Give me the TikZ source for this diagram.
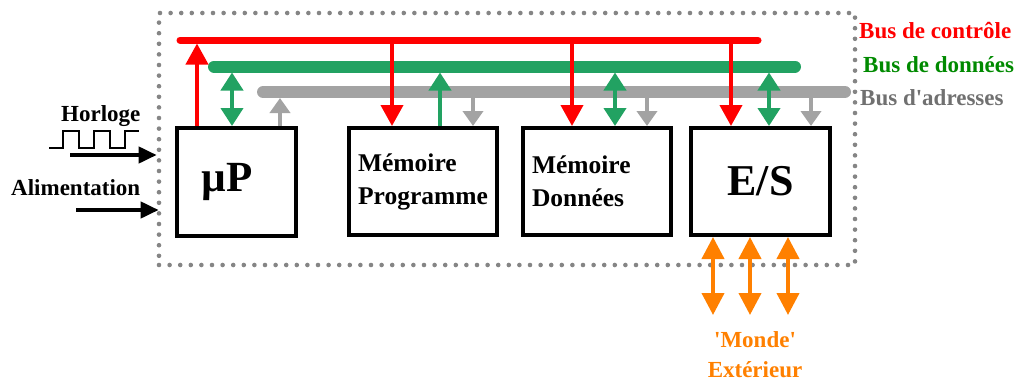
\documentclass[tikz,border=0pt]{standalone}
\usepackage{fontspec}
\setmainfont{Liberation Serif}
\newfontfamily\qfont{Liberation Serif}[Ligatures=TeXOff]
\newcommand\sq{{\qfont\bfseries'}}
\usetikzlibrary{arrows.meta,calc}
\definecolor{busred}{HTML}{FF0000}
\definecolor{busgreen}{HTML}{22A262}
\definecolor{txtgreen}{HTML}{008A00}
\definecolor{busgray}{HTML}{A3A3A3}
\definecolor{txtgray}{HTML}{707070}
\definecolor{dotgray}{HTML}{858585}
\definecolor{worldorange}{HTML}{FF8000}
\tikzset{
  blk/.style={draw=black,line width=4pt,fill=white,inner sep=0pt,align=left,font=\bfseries},
  rbus/.style={busred,line width=7pt,line cap=round},
  gbus/.style={busgreen,line width=12pt,line cap=round},
  abus/.style={busgray,line width=12pt,line cap=round},
  rtip/.tip={Triangle[width=22pt,length=21pt]},
  gtip/.tip={Triangle[width=22pt,length=18pt]},
  atip/.tip={Triangle[width=20pt,length=15pt]},
  otip/.tip={Triangle[width=22pt,length=22pt]},
  ktip/.tip={Triangle[width=16pt,length=18pt]},
  rarr/.style={busred,line width=4pt},
  garr/.style={busgreen,line width=4pt},
  aarr/.style={busgray,line width=4pt},
  oarr/.style={worldorange,line width=4pt,{otip}-{otip}},
  karr/.style={black,line width=4pt,-{ktip}},
  lbl/.style={inner sep=0pt,anchor=base west,font=\bfseries\fontsize{23}{27}\selectfont},
}
\begin{document}
\begin{tikzpicture}[x=1pt,y=-1pt]
\useasboundingbox (0,0) rectangle (1028,380);
% system frame
\node[draw=dotgray,line width=4.6pt,dash pattern=on 0pt off 10.6pt,line cap=round,
      minimum width=696pt,minimum height=252pt,inner sep=0pt] (sys) at (507,139) {};
% buses
\coordinate (rbL) at (180,40);   \coordinate (rbR) at (758,40);
\coordinate (gbL) at (214,66.5); \coordinate (gbR) at (795,66.5);
\coordinate (abL) at (263,92);   \coordinate (abR) at (845,92);
\draw[rbus] (rbL) -- (rbR);
\draw[gbus] (gbL) -- (gbR);
\draw[abus] (abL) -- (abR);
% blocks
\node[blk,minimum width=119pt,minimum height=108pt,font=\bfseries\fontsize{43}{48}\selectfont] (mup) at (236.5,182) {\hspace*{-18pt}µP};
\node[blk,minimum width=148pt,minimum height=107pt,font=\bfseries\fontsize{25.5}{33}\selectfont] (memp) at (423,181.5) {Mémoire\\Programme};
\node[blk,minimum width=148pt,minimum height=107pt,font=\bfseries\fontsize{25.5}{33}\selectfont,text width=130pt] (memd) at (597,181.5) {Mémoire\\Données};
\node[blk,minimum width=139pt,minimum height=107pt,font=\bfseries\fontsize{44}{48}\selectfont] (es) at (760.5,181.5) {E/S};
% µP connections
\draw[rarr,-{rtip},shorten >=3.5pt] ([xshift=-39.5pt]mup.north) -- ([xshift=-39.5pt]mup.north |- rbL);
\draw[garr,{gtip}-{gtip},shorten <=6pt] ([xshift=-4.5pt]mup.north |- gbL) -- ([xshift=-4.5pt]mup.north);
\draw[aarr,-{atip},shorten >=6pt] ([xshift=43.5pt]mup.north) -- ([xshift=43.5pt]mup.north |- abL);
% Memoire programme
\draw[rarr,-{rtip}] ([xshift=-31pt]memp.north |- rbL) -- ([xshift=-31pt]memp.north);
\draw[garr,-{gtip},shorten >=6pt] ([xshift=17pt]memp.north) -- ([xshift=17pt]memp.north |- gbL);
\draw[aarr,-{atip}] ([xshift=50pt]memp.north |- abL) -- ([xshift=50pt]memp.north);
% Memoire donnees
\draw[rarr,-{rtip}] ([xshift=-25pt]memd.north |- rbL) -- ([xshift=-25pt]memd.north);
\draw[garr,{gtip}-{gtip},shorten <=6pt] ([xshift=18pt]memd.north |- gbL) -- ([xshift=18pt]memd.north);
\draw[aarr,-{atip}] ([xshift=50pt]memd.north |- abL) -- ([xshift=50pt]memd.north);
% E/S
\draw[rarr,-{rtip}] ([xshift=-29.5pt]es.north |- rbL) -- ([xshift=-29.5pt]es.north);
\draw[garr,{gtip}-{gtip},shorten <=6pt] ([xshift=8.5pt]es.north |- gbL) -- ([xshift=8.5pt]es.north);
\draw[aarr,-{atip}] ([xshift=50.5pt]es.north |- abL) -- ([xshift=50.5pt]es.north);
% outside world
\coordinate (world) at (750,315);
\draw[oarr] ([xshift=-47.5pt]es.south) -- ([xshift=-47.5pt]es.south |- world);
\draw[oarr] ([xshift=-10.5pt]es.south) -- ([xshift=-10.5pt]es.south |- world);
\draw[oarr] ([xshift=27.5pt]es.south) -- ([xshift=27.5pt]es.south |- world);
% bus labels
\node[lbl,text=busred] (lctl) at (859,38) {Bus de contrôle};
\node[lbl,text=txtgreen] (ldat) at (863,72) {Bus de données};
\node[lbl,text=txtgray] (ladr) at (860,105) {Bus d\sq adresses};
% inputs
\node[lbl] (lclk) at (61,121) {Horloge};
\draw[black,line width=1.5pt] (49,148) -- (63,148) -- (63,131) -- (79,131) -- (79,148) -- (94,148) -- (94,131) -- (110,131) -- (110,148) -- (125,148) -- (125,131) -- (139,131);
\coordinate (clkin) at (70,155);
\draw[karr] (clkin) -- (clkin -| sys.west);
\node[lbl] (lalim) at (11,195) {Alimentation};
\coordinate (alimin) at (76,210);
\draw[karr] (alimin) -- ([xshift=2pt]alimin -| sys.west);
% world label
\node[lbl,text=worldorange,anchor=base] (lmonde) at (755,347) {\sq Monde\sq};
\node[lbl,text=worldorange,anchor=base] (lext) at (755,377) {Extérieur};
\end{tikzpicture}
\end{document}
